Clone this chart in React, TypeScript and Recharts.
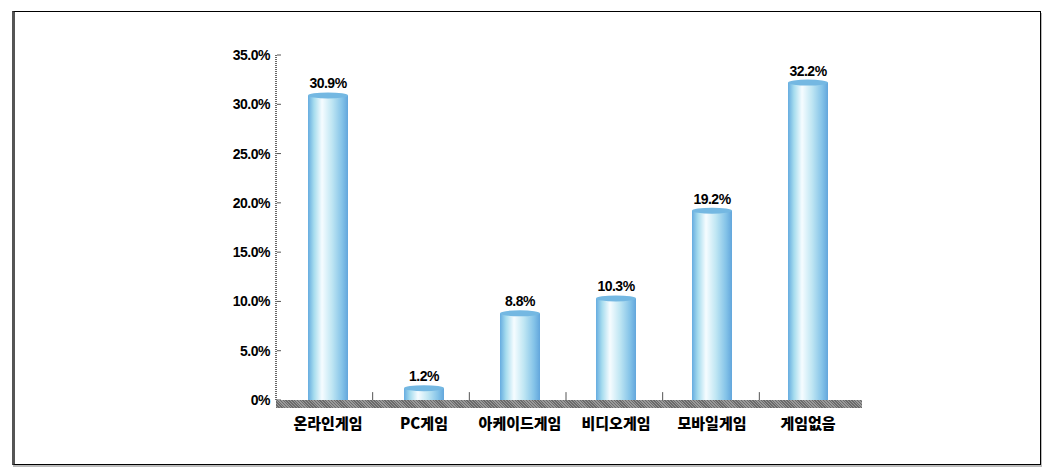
import { Bar, BarChart, LabelList, ReferenceLine, XAxis, YAxis } from 'recharts';

const categories: Array<string> = ['온라인게임', 'PC게임', '아케이드게임', '비디오게임', '모바일게임', '게임없음'];
const shares: Array<number> = [30.9, 1.2, 8.8, 10.3, 19.2, 32.2];
const yTicks: Array<number> = [0, 5, 10, 15, 20, 25, 30, 35];
const boundaries: Array<number> = [1, 2, 3, 4, 5];

const data = categories.map((name, i) => ({ name, idx: i + 0.5, value: shares[i] }));

const fmt = (v: number) => (v === 0 ? '0%' : `${v.toFixed(1)}%`);

const Cylinder: React.FC<any> = ({ x, y, width, height }) => {
  if (height <= 0) return null;
  return (
    <g>
      <rect x={x} y={y} width={width} height={height} fill="url(#cyl)" />
      <ellipse cx={x + width / 2} cy={y} rx={width / 2} ry={3} fill="#74b8e2" />
    </g>
  );
};

const YTick: React.FC<any> = ({ x, y, payload }) => (
  <g>
    <text
      x={x}
      y={y}
      dy={5}
      textAnchor="end"
      fontFamily="Liberation Sans, Arial, sans-serif"
      fontWeight={700}
      fontSize={14}
      letterSpacing={-0.5}
      fill="#000"
    >
      {fmt(payload.value)}
    </text>
    <line x1={x + 7} x2={x + 11} y1={y} y2={y} stroke="#555" strokeWidth={1} />
  </g>
);

const XTick: React.FC<any> = ({ x, y, payload }) => (
  <text
    x={x}
    y={y + 21}
    textAnchor="middle"
    fontFamily="Noto Sans CJK KR, sans-serif"
    fontWeight={900}
    fontSize={15}
    fill="#000"
  >
    {payload.value}
  </text>
);

export default function App() {
  return (
    <div style={{ position: 'absolute', left: 0, top: 0, width: 1048, height: 473, background: '#fff' }}>
      <div
        style={{
          position: 'absolute',
          left: 12,
          top: 11,
          width: 1025,
          height: 452,
          borderTop: '1px solid #000',
          borderRight: '1px solid #000',
          borderBottom: '1px solid #000',
          borderLeft: '3px solid #555',
          boxShadow: '1px 2px 0 #bbb',
        }}
      />
      <div style={{ position: 'absolute', left: 0, top: 0 }}>
        <BarChart width={1048} height={473} data={data} margin={{ top: 55, right: 192, left: 0, bottom: 23 }}>
          <defs>
            <linearGradient id="cyl" x1="0" y1="0" x2="1" y2="0">
              <stop offset="0" stopColor="#66ace0" />
              <stop offset="0.15" stopColor="#a6dcee" />
              <stop offset="0.35" stopColor="#f6fcff" />
              <stop offset="0.6" stopColor="#bfe6f3" />
              <stop offset="0.85" stopColor="#84c3e8" />
              <stop offset="1" stopColor="#62a6dc" />
            </linearGradient>
          </defs>
          <XAxis
            dataKey="name"
            padding={{ left: 4, right: 0 }}
            axisLine={false}
            tickLine={false}
            tick={<XTick />}
            height={50}
            interval={0}
          />
          <XAxis xAxisId="num" type="number" dataKey="idx" domain={[0, 6]} hide />
          <YAxis
            width={276}
            domain={[0, 35]}
            ticks={yTicks}
            axisLine={{ stroke: '#666', strokeWidth: 2, strokeDasharray: '1 1' }}
            tickLine={false}
            tickSize={0}
            tickMargin={6}
            tick={<YTick />}
          />
          {boundaries.map((b) => (
            <ReferenceLine
              key={b}
              xAxisId="num"
              segment={[
                { x: b, y: 0 },
                { x: b, y: 0.8 },
              ]}
              stroke="#555"
              strokeWidth={1}
            />
          ))}
          <Bar dataKey="value" barSize={40} shape={<Cylinder />} isAnimationActive={false}>
            <LabelList
              dataKey="value"
              position="top"
              offset={7}
              formatter={(v: any) => `${v}%`}
              style={{ fontFamily: 'Liberation Sans, Arial, sans-serif', fontWeight: 700, fontSize: 14, letterSpacing: -0.5, fill: '#000' }}
            />
          </Bar>
        </BarChart>
      </div>
      <div
        style={{
          position: 'absolute',
          left: 276,
          top: 400,
          width: 586,
          height: 8,
          background: 'repeating-linear-gradient(45deg, #6a6a6a 0px, #6a6a6a 1px, #9a9a9a 1px, #9a9a9a 2px)',
        }}
      />
    </div>
  );
}
